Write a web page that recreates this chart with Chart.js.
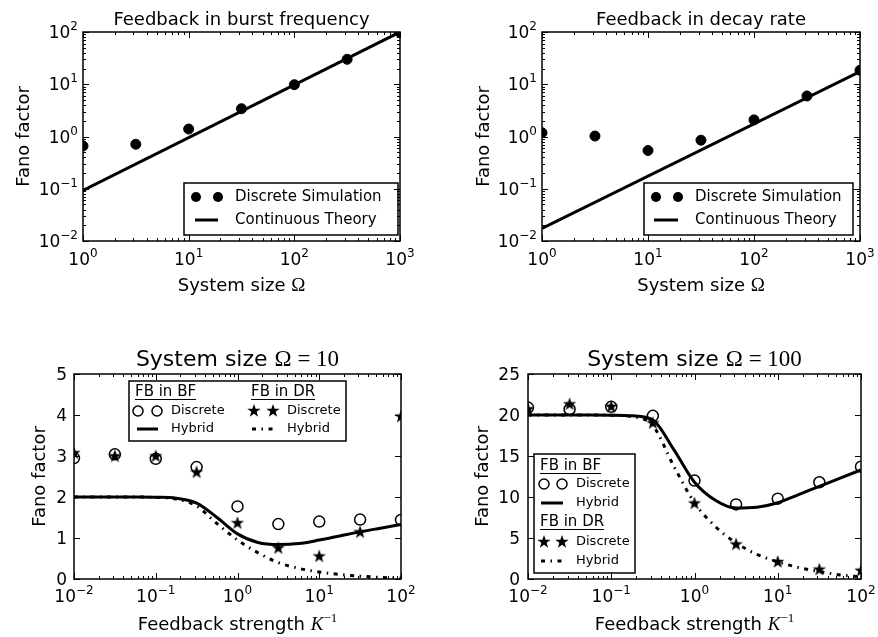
<!DOCTYPE html>
<html>
<head>
<meta charset="utf-8">
<script src="https://cdn.jsdelivr.net/npm/chart.js@4.4.0/dist/chart.umd.min.js"></script>
<style>
  body { margin: 0; background: #fff; width: 878px; height: 637px; position: relative; overflow: hidden; }
  canvas { position: absolute; }
</style>
</head>
<body>
<canvas id="c1" width="440" height="310" style="left:0;top:0"></canvas>
<canvas id="c2" width="438" height="310" style="left:440px;top:0"></canvas>
<canvas id="c3" width="440" height="327" style="left:0;top:310px"></canvas>
<canvas id="c4" width="438" height="327" style="left:440px;top:310px"></canvas>
<script>
// ---- data ----
const omega = [1, 3.16, 10, 31.6, 100, 316, 1000];
const fanoBurstSim = [0.66, 0.71, 1.39, 3.4, 9.8, 30, 98];
const fanoDecaySim = [1.18, 1.02, 0.54, 0.85, 2.08, 5.96, 18.5];
const omegaLine = [1, 1000];
const fanoBurstTheory = [0.093, 100];
const fanoDecayTheory = [0.0175, 17.5];

const kInv = [0.01, 0.0316, 0.1, 0.316, 1, 3.16, 10, 31.6, 100];
const bf10Discrete = [2.95, 3.04, 2.93, 2.73, 1.77, 1.34, 1.4, 1.45, 1.44];
const dr10Discrete = [3.07, 2.99, 2.99, 2.6, 1.36, 0.75, 0.55, 1.14, 3.96];
const bf100Discrete = [20.9, 20.7, 21.0, 19.9, 12.0, 9.1, 9.8, 11.8, 13.7];
const dr100Discrete = [20.7, 21.3, 21.0, 19.0, 9.2, 4.2, 2.07, 1.14, 1.0];

const kInvCurve = [0.01, 0.0178, 0.0316, 0.0562, 0.1, 0.178, 0.316, 0.562, 1, 1.78, 3.16, 5.62, 10, 17.8, 31.6, 56.2, 100];
const bf10Hybrid = [2.0, 2.0, 2.0, 2.0, 1.995, 1.97, 1.85, 1.5, 1.1, 0.89, 0.84, 0.865, 0.95, 1.05, 1.15, 1.24, 1.33];
const dr10Hybrid = [2.0, 2.0, 2.0, 2.0, 1.99, 1.95, 1.78, 1.35, 0.95, 0.64, 0.4, 0.26, 0.17, 0.11, 0.07, 0.04, 0.02];
const bf100Hybrid = [20, 20, 20, 20, 19.98, 19.9, 19.4, 15.8, 11.8, 9.6, 8.65, 8.75, 9.3, 10.3, 11.3, 12.3, 13.3];
const dr100Hybrid = [20, 20, 20, 20, 19.97, 19.8, 18.7, 13.8, 9.3, 6.4, 4.4, 3.0, 2.1, 1.4, 0.9, 0.5, 0.25];

const omegaTicks = [1, 10, 100, 1000];
const fanoLogTicks = [0.01, 0.1, 1, 10, 100];
const kInvTicks = [0.01, 0.1, 1, 10, 100];
const fano10Ticks = [0, 1, 2, 3, 4, 5];
const fano100Ticks = [0, 5, 10, 15, 20, 25];

// ---- helpers ----
const SANS = '"DejaVu Sans"';
const SERIF = '"Liberation Serif"';
const DASHDOT = [4, 5.5, 1.5, 5.5];

const pts = (xs, ys) => xs.map((x, i) => ({ x: x, y: ys[i] }));

// tick label as runs: "10" plus a raised exponent
function tickRuns(v, isLog) {
  if (!isLog) return [{ t: String(v), f: '17px ' + SANS }];
  const e = Math.round(Math.log10(v));
  return [{ t: '10', f: '17px ' + SANS }, { t: String(e).replace('-', '−'), f: '12px ' + SANS, dy: -8 }];
}

function makeStar(R, r) {
  const c = document.createElement('canvas');
  const s = Math.ceil(R * 2 + 2);
  c.width = s; c.height = s;
  const g = c.getContext('2d');
  g.fillStyle = '#000';
  starPath(g, s / 2, s / 2, R, r);
  g.fill();
  return c;
}
function starPath(g, x, y, R, r) {
  g.beginPath();
  for (let i = 0; i < 10; i++) {
    const a = -Math.PI / 2 + i * Math.PI / 5;
    const rad = i % 2 ? r : R;
    g.lineTo(x + rad * Math.cos(a), y + rad * Math.sin(a));
  }
  g.closePath();
}
const starImg = makeStar(7, 2.8);

function runsWidth(ctx, runs) {
  let total = 0;
  runs.forEach(r => { ctx.font = r.f; r.w = ctx.measureText(r.t).width; total += r.w; });
  return total;
}
function drawRunsAt(ctx, runs, x, y) {
  ctx.textAlign = 'left';
  runs.forEach(r => {
    ctx.font = r.f;
    ctx.fillText(r.t, x, y + (r.dy || 0));
    x += r.w;
  });
}
function drawRuns(ctx, runs, cx, y) {
  const total = runsWidth(ctx, runs);
  drawRunsAt(ctx, runs, cx - total / 2, y);
}

// legend marker helpers
function lgDot(ctx, x, y) { ctx.beginPath(); ctx.arc(x, y, 5, 0, Math.PI * 2); ctx.fill(); }
function lgRing(ctx, x, y) { ctx.lineWidth = 1.5; ctx.beginPath(); ctx.arc(x, y, 5, 0, Math.PI * 2); ctx.stroke(); }
function lgStar(ctx, x, y) { starPath(ctx, x, y, 7, 2.8); ctx.fill(); }
function lgLine(ctx, x1, x2, y, dash) {
  ctx.save();
  ctx.lineWidth = 3;
  ctx.setLineDash(dash || []);
  ctx.beginPath(); ctx.moveTo(x1, y); ctx.lineTo(x2, y); ctx.stroke();
  ctx.restore();
}
function lgText(ctx, t, x, y, size, underline) {
  ctx.font = size + 'px ' + SANS;
  ctx.textAlign = 'left';
  ctx.textBaseline = 'middle';
  ctx.fillText(t, x, y);
  if (underline) {
    const w = ctx.measureText(t).width;
    ctx.lineWidth = 1;
    ctx.beginPath(); ctx.moveTo(x, y + size * 0.5); ctx.lineTo(x + w, y + size * 0.5); ctx.stroke();
  }
}
function lgBox(ctx, l, t, r, b) {
  ctx.lineWidth = 1.5;
  ctx.strokeRect(l, t, r - l, b - t);
}

// axes frame with inward ticks on all sides, plus tick labels
function framePlugin(xLog, yLog, xLabelDy, yLabelGap) {
  return {
    id: 'frame',
    afterDatasetsDraw(chart) {
      const { ctx, chartArea: a, scales } = chart;
      ctx.save();
      ctx.strokeStyle = '#000';
      ctx.fillStyle = '#000';
      ctx.lineWidth = 1;
      const seg = (x1, y1, x2, y2) => { ctx.beginPath(); ctx.moveTo(x1, y1); ctx.lineTo(x2, y2); ctx.stroke(); };
      const minor = (s) => {
        const out = [];
        for (let d = s.min; d < s.max * 0.999; d *= 10) {
          for (let m = 2; m <= 9; m++) out.push(d * m);
        }
        return out;
      };
      const xs = scales.x, ys = scales.y;
      const tx = (v, len) => { const p = Math.round(xs.getPixelForValue(v)) + 0.5; seg(p, a.bottom, p, a.bottom - len); seg(p, a.top, p, a.top + len); };
      const ty = (v, len) => { const p = Math.round(ys.getPixelForValue(v)) + 0.5; seg(a.left, p, a.left + len, p); seg(a.right, p, a.right - len, p); };
      xs.ticks.forEach(t => tx(t.value, 6));
      ys.ticks.forEach(t => ty(t.value, 6));
      if (xLog) minor(xs).forEach(v => tx(v, 3));
      if (yLog) minor(ys).forEach(v => ty(v, 3));
      ctx.lineWidth = 1.5;
      ctx.strokeRect(a.left, a.top, a.right - a.left, a.bottom - a.top);
      // tick labels
      ctx.textBaseline = 'alphabetic';
      xs.ticks.forEach(t => {
        drawRuns(ctx, tickRuns(t.value, xLog), xs.getPixelForValue(t.value), a.bottom + xLabelDy);
      });
      ys.ticks.forEach(t => {
        const runs = tickRuns(t.value, yLog);
        const w = runsWidth(ctx, runs);
        drawRunsAt(ctx, runs, a.left - yLabelGap - w, ys.getPixelForValue(t.value) + 6);
      });
      ctx.restore();
    }
  };
}

function textPlugin(cfg) {
  return {
    id: 'texts',
    afterDraw(chart) {
      const { ctx, chartArea: a } = chart;
      const cx = (a.left + a.right) / 2, cy = (a.top + a.bottom) / 2;
      ctx.save();
      ctx.fillStyle = '#000';
      ctx.strokeStyle = '#000';
      ctx.textBaseline = 'alphabetic';
      drawRuns(ctx, cfg.title, cx, cfg.titleY);
      drawRuns(ctx, cfg.xlabel, cx, cfg.xlabelY);
      ctx.save();
      ctx.translate(cfg.ylabelX, cy);
      ctx.rotate(-Math.PI / 2);
      drawRuns(ctx, [{ t: 'Fano factor', f: '18px ' + SANS }], 0, 0);
      ctx.restore();
      cfg.legend(ctx);
      ctx.restore();
    }
  };
}

function axis(type, min, max, ticks, fit, horizontal) {
  return {
    type: type,
    min: min,
    max: max,
    grid: { display: false, drawTicks: false },
    border: { display: false },
    afterBuildTicks: s => { s.ticks = ticks.map(v => ({ value: v })); },
    afterFit: s => { if (horizontal) s.height = fit; else s.width = fit; },
    ticks: { display: false, autoSkip: false, maxRotation: 0, minRotation: 0 }
  };
}

function makeChart(id, datasets, xs, ys, pad, plugins) {
  return new Chart(document.getElementById(id), {
    type: 'scatter',
    data: { datasets: datasets },
    options: {
      responsive: false,
      animation: false,
      layout: { padding: pad },
      plugins: { legend: { display: false }, tooltip: { enabled: false } },
      scales: { x: xs, y: ys }
    },
    plugins: plugins
  });
}

const dotSet = (d) => ({ data: d, pointStyle: 'circle', pointRadius: 5, backgroundColor: '#000', borderColor: '#000', borderWidth: 1, clip: 0 });
const ringSet = (d) => ({ data: d, pointStyle: 'circle', pointRadius: 5.5, backgroundColor: 'rgba(0,0,0,0)', borderColor: '#000', borderWidth: 1.5, clip: 0 });
const starSet = (d) => ({ data: d, pointStyle: starImg, pointRadius: 7, clip: 0 });
const lineSet = (d, dash) => ({ data: d, showLine: true, pointRadius: 0, borderColor: '#000', borderWidth: 3, borderDash: dash || [], cubicInterpolationMode: 'monotone', clip: 0 });

const omegaLabel = [{ t: 'System size ', f: '18px ' + SANS }, { t: 'Ω', f: '19px ' + SERIF }];
const kLabel = [{ t: 'Feedback strength ', f: '18px ' + SANS }, { t: 'K', f: 'italic 19px ' + SERIF }, { t: '−1', f: '13px ' + SERIF, dy: -8 }];

// ---- panel 1: feedback in burst frequency ----
makeChart('c1',
  [dotSet(pts(omega, fanoBurstSim)), lineSet(pts(omegaLine, fanoBurstTheory))],
  axis('logarithmic', 1, 1000, omegaTicks, 69, true),
  axis('logarithmic', 0.01, 100, fanoLogTicks, 83, false),
  { left: 0, right: 40, top: 32, bottom: 0 },
  [framePlugin(true, true, 24, 5), textPlugin({
    title: [{ t: 'Feedback in burst frequency', f: '18px ' + SANS }], titleY: 25,
    xlabel: omegaLabel, xlabelY: 291, ylabelX: 29,
    legend: ctx => {
      lgBox(ctx, 184, 183, 398, 235);
      lgDot(ctx, 196, 197); lgDot(ctx, 218, 197);
      lgLine(ctx, 195, 218, 220);
      lgText(ctx, 'Discrete Simulation', 235, 197, 15);
      lgText(ctx, 'Continuous Theory', 235, 220, 15);
    }
  })]);

// ---- panel 2: feedback in decay rate ----
makeChart('c2',
  [dotSet(pts(omega, fanoDecaySim)), lineSet(pts(omegaLine, fanoDecayTheory))],
  axis('logarithmic', 1, 1000, omegaTicks, 69, true),
  axis('logarithmic', 0.01, 100, fanoLogTicks, 102, false),
  { left: 0, right: 18, top: 32, bottom: 0 },
  [framePlugin(true, true, 24, 5), textPlugin({
    title: [{ t: 'Feedback in decay rate', f: '18px ' + SANS }], titleY: 25,
    xlabel: omegaLabel, xlabelY: 291, ylabelX: 49,
    legend: ctx => {
      lgBox(ctx, 204, 183, 413, 235);
      lgDot(ctx, 216, 197); lgDot(ctx, 238, 197);
      lgLine(ctx, 214, 238, 220);
      lgText(ctx, 'Discrete Simulation', 255, 197, 15);
      lgText(ctx, 'Continuous Theory', 255, 220, 15);
    }
  })]);

// ---- panel 3: system size 10 ----
makeChart('c3',
  [ringSet(pts(kInv, bf10Discrete)), starSet(pts(kInv, dr10Discrete)),
   lineSet(pts(kInvCurve, bf10Hybrid)), lineSet(pts(kInvCurve, dr10Hybrid), DASHDOT)],
  axis('logarithmic', 0.01, 100, kInvTicks, 58, true),
  axis('linear', 0, 5, fano10Ticks, 74, false),
  { left: 0, right: 39, top: 64, bottom: 0 },
  [framePlugin(true, false, 23, 7), textPlugin({
    title: [{ t: 'System size ', f: '22px ' + SANS }, { t: 'Ω = 10', f: '23px ' + SERIF }], titleY: 56,
    xlabel: kLabel, xlabelY: 320, ylabelX: 45,
    legend: ctx => {
      lgBox(ctx, 129, 71, 346, 131);
      lgText(ctx, 'FB in BF', 135, 82, 15, true);
      lgText(ctx, 'FB in DR', 251, 82, 15, true);
      lgRing(ctx, 138, 101); lgRing(ctx, 157, 101);
      lgText(ctx, 'Discrete', 171, 101, 13);
      lgLine(ctx, 137, 158, 119);
      lgText(ctx, 'Hybrid', 171, 119, 13);
      lgStar(ctx, 254, 101); lgStar(ctx, 273, 101);
      lgText(ctx, 'Discrete', 287, 101, 13);
      lgLine(ctx, 252, 274, 119, DASHDOT);
      lgText(ctx, 'Hybrid', 287, 119, 13);
    }
  })]);

// ---- panel 4: system size 100 ----
makeChart('c4',
  [ringSet(pts(kInv, bf100Discrete)), starSet(pts(kInv, dr100Discrete)),
   lineSet(pts(kInvCurve, bf100Hybrid)), lineSet(pts(kInvCurve, dr100Hybrid), DASHDOT)],
  axis('logarithmic', 0.01, 100, kInvTicks, 58, true),
  axis('linear', 0, 25, fano100Ticks, 88, false),
  { left: 0, right: 17, top: 64, bottom: 0 },
  [framePlugin(true, false, 23, 8), textPlugin({
    title: [{ t: 'System size ', f: '22px ' + SANS }, { t: 'Ω = 100', f: '23px ' + SERIF }], titleY: 56,
    xlabel: kLabel, xlabelY: 320, ylabelX: 48,
    legend: ctx => {
      lgBox(ctx, 94, 144, 195, 263);
      lgText(ctx, 'FB in BF', 100, 156, 15, true);
      lgRing(ctx, 104, 174); lgRing(ctx, 122, 174);
      lgText(ctx, 'Discrete', 136, 174, 13);
      lgLine(ctx, 101, 123, 193);
      lgText(ctx, 'Hybrid', 136, 193, 13);
      lgText(ctx, 'FB in DR', 100, 212, 15, true);
      lgStar(ctx, 104, 232); lgStar(ctx, 122, 232);
      lgText(ctx, 'Discrete', 136, 232, 13);
      lgLine(ctx, 101, 123, 251, DASHDOT);
      lgText(ctx, 'Hybrid', 136, 251, 13);
    }
  })]);
</script>
</body>
</html>
